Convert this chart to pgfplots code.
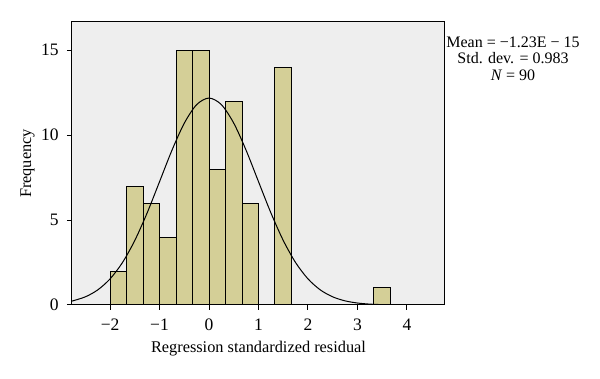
\documentclass[border=0pt]{standalone}
\usepackage{pgfplots}
\pgfplotsset{compat=1.18}
\usepackage{fontspec}
\setmainfont{Liberation Serif}
\definecolor{bargold}{RGB}{212,207,151}
\definecolor{bggray}{RGB}{238,238,238}
\begin{document}
\begin{tikzpicture}
\useasboundingbox (0,0) rectangle (360pt,227.4pt);
\begin{axis}[
  at={(43.2pt,44.4pt)}, anchor=south west,
  scale only axis, width=223.8pt, height=169.8pt,
  xmin=-2.77, xmax=4.77, ymin=0, ymax=16.65,
  xtick={-2,-1,0,1,2,3,4}, ytick={0,5,10,15},
  xticklabels={\textminus2,\textminus1,0,1,2,3,4},
  tick align=outside, xtick pos=bottom, ytick pos=left,
  major tick length=3pt,
  axis background/.style={fill=bggray},
  axis line style={line width=0.6pt},
  tick style={line width=0.6pt, black},
  font=\fontsize{9.8}{11}\selectfont,
  /pgf/number format/assume math mode=true,
  xticklabel style={font=\fontsize{10.5}{12}\selectfont, yshift=-2pt},
  yticklabel style={font=\fontsize{10.5}{12}\selectfont, xshift=-1.5pt},
  xlabel={Regression standardized residual},
  ylabel={Frequency},
  xlabel style={yshift=0.5pt},
  ylabel style={yshift=-3pt},
  clip=true,
]
\addplot[ybar, bar width=0.33333, fill=bargold, draw=black, line width=0.6pt] coordinates {
(-1.8333,2) (-1.5,7) (-1.1667,6) (-0.8333,4) (-0.5,15) (-0.1667,15)
(0.1667,8) (0.5,12) (0.8333,6) (1.5,14) (3.5,1)};
\addplot[smooth, black, line width=0.6pt] coordinates {
(-2.77,0.230) (-2.5,0.480) (-2.25,0.887) (-2.0,1.537) (-1.75,2.496)
(-1.5,3.801) (-1.25,5.424) (-1.0,7.257) (-0.75,9.100) (-0.5,10.697)
(-0.25,11.788) (0,12.175) (0.25,11.788) (0.5,10.697) (0.75,9.100)
(1.0,7.257) (1.25,5.424) (1.5,3.801) (1.75,2.496) (2.0,1.537)
(2.25,0.887) (2.5,0.480) (2.75,0.243) (3.0,0.116) (3.25,0.052)
(3.5,0.022) (3.75,0.008) (4.0,0.003) (4.5,0.0003) (4.77,0.0001)};
\end{axis}
\node[align=center, font=\fontsize{9.6}{9.9}\selectfont, anchor=north] at (307.8pt,209pt)
  {Mean = \textminus1.23E \textminus\ 15\\Std. dev. = 0.983\\\textit{N} = 90};
\end{tikzpicture}
\end{document}
